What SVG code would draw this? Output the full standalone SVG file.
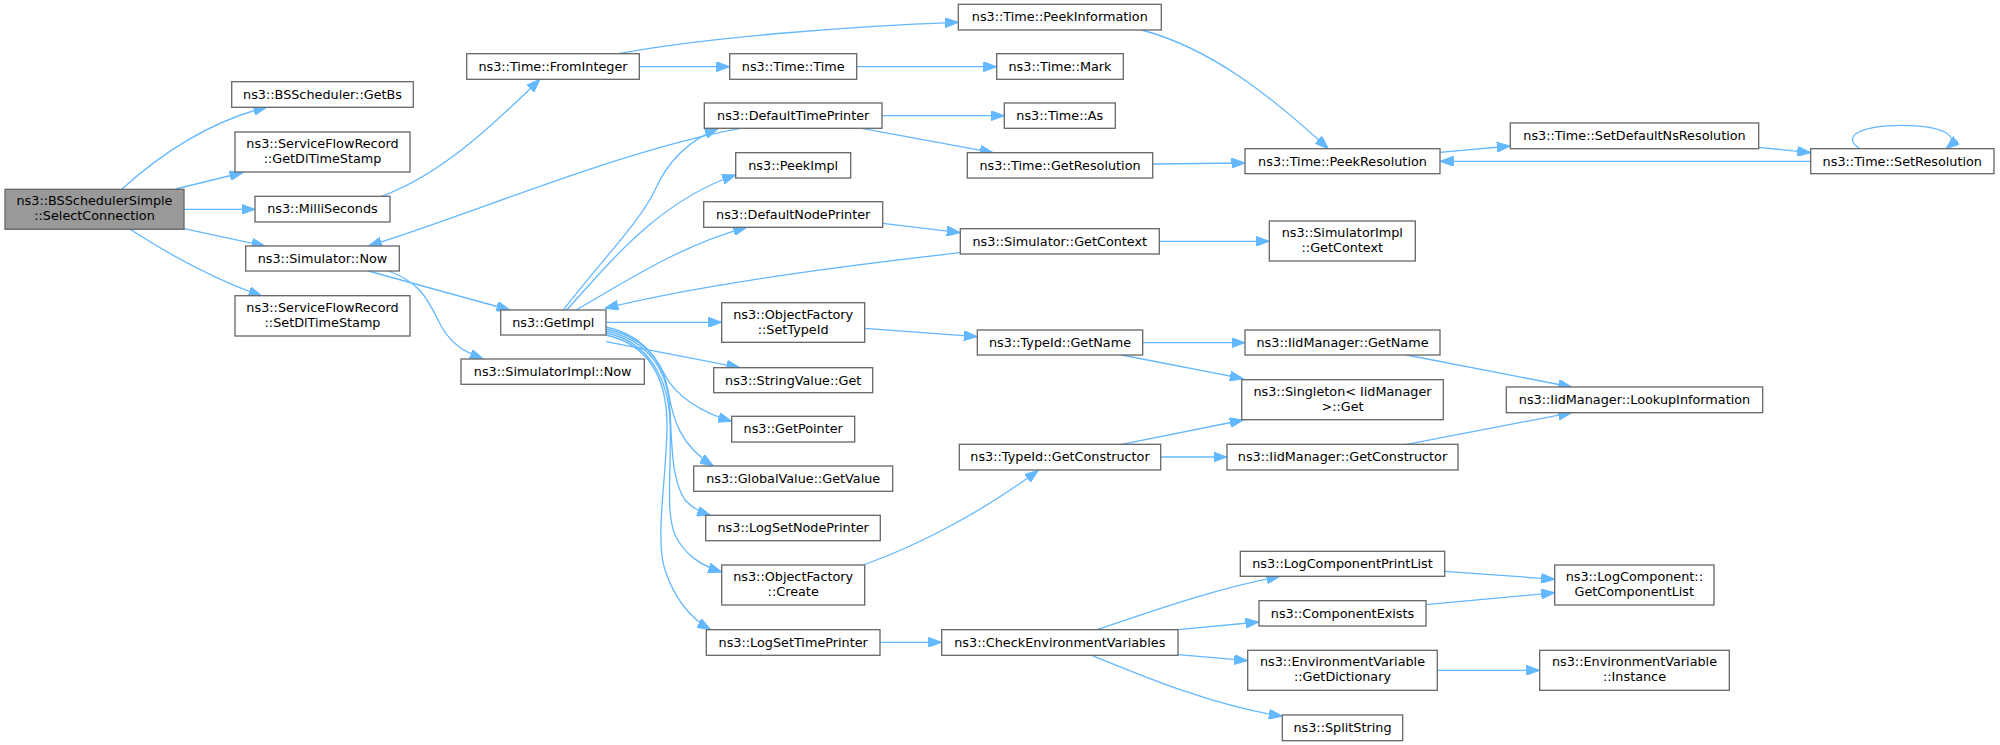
<svg xmlns="http://www.w3.org/2000/svg" width="2000" height="745" viewBox="0 0 2000 745">
<style>
.n rect{fill:#ffffff;stroke:#666666;stroke-width:1.3}
.n.main rect{fill:#999999}
.n text{font-family:"DejaVu Sans","Liberation Sans",sans-serif;font-size:12.8px;fill:#000000;text-anchor:middle}
.e path{fill:none;stroke:#63b8ff;stroke-width:1.3;marker-end:url(#arr)}
</style>
<defs>
<marker id="arr" viewBox="0 0 14 10" refX="13.5" refY="5" markerWidth="14" markerHeight="10" orient="auto" markerUnits="userSpaceOnUse">
<path d="M0,0 L13.5,5 L0,10 z" fill="#63b8ff" stroke="#63b8ff" stroke-width="1"/>
</marker>
</defs>
<rect width="2000" height="745" fill="#ffffff"/>
<g id="edges" class="e">
<path d="M121.7,189.3 C165,150 215,120 267,107"/>
<path d="M175.7,189 L243,172.5"/>
<path d="M184,209.3 L255,209.3"/>
<path d="M184,228.7 L265,246"/>
<path d="M130,229.3 C170,255 215,280 262,296"/>
<path d="M381.7,196.3 C440,175 490,128 540,79.3"/>
<path d="M618.3,53.7 C700,38 850,26 958.3,22.3"/>
<path d="M639.3,66.7 L729.7,66.7"/>
<path d="M856.7,66.7 L996.7,66.7"/>
<path d="M1141.7,30 C1210,48 1270,95 1328.3,148.7"/>
<path d="M740.7,128.3 C620,150 470,215 368.3,246"/>
<path d="M882,115.7 L1004.3,115.7"/>
<path d="M861.7,128.3 L993.3,152.7"/>
<path d="M1152.7,164 L1245,163"/>
<path d="M1440,152.3 L1510.3,146"/>
<path d="M1758.7,147.3 L1810.7,152.7"/>
<path d="M1810.7,161.3 L1440,161.3"/>
<path d="M1860,148.7 C1840,136 1862,125.3 1902,125.3 C1942,125.3 1962,136 1946,148.7"/>
<path d="M368.3,271 L510,310"/>
<path d="M388.3,271 C420,282 428,300 438,320 C450,345 465,352 483.3,359"/>
<path d="M563.3,310 C600,262 640,222 655,190 C668,160 690,140 718.3,128.3"/>
<path d="M566.7,310 C610,262 660,200 735.7,175"/>
<path d="M576,310 C620,285 680,245 746.7,227.3"/>
<path d="M882.7,223.3 L960.3,232.7"/>
<path d="M960.3,252.7 C850,265 700,285 605,308.3"/>
<path d="M1159.3,241.3 L1269.3,241.3"/>
<path d="M606,322.3 L721.7,322.3"/>
<path d="M864.7,328.3 L977.3,336.7"/>
<path d="M1142.7,342.7 L1245,342.7"/>
<path d="M1121.7,355 L1243.3,378.7"/>
<path d="M1406.7,355 L1571.7,387"/>
<path d="M606,341.7 L740,367.7"/>
<path d="M606,327 C640,334 655,355 665,375 C675,395 700,412 731.7,421.3"/>
<path d="M606,329 C645,337 662,360 668,390 C673,420 680,445 713.3,466"/>
<path d="M606,331 C648,340 668,370 670,410 C672,450 672,480 685,500 C692,508 700,512 710.7,515.3"/>
<path d="M606,333 C650,342 668,380 670,420 C672,470 665,510 675,535 C685,555 700,565 721.7,572"/>
<path d="M606,335 C650,345 668,380 667,430 C666,480 655,540 665,570 C675,600 690,618 710.7,629.7"/>
<path d="M863.3,565 C920,545 985,510 1038.3,470.3"/>
<path d="M1121.7,444.3 L1243.3,420"/>
<path d="M1160.7,457 L1227,457"/>
<path d="M1406.7,444.3 L1571.7,412.7"/>
<path d="M880,642.3 L941.7,642.3"/>
<path d="M1096.7,629.7 C1150,612 1210,590 1280,576.3"/>
<path d="M1178,629.7 L1259,622"/>
<path d="M1178,654.7 L1247.7,660.7"/>
<path d="M1091.7,655.3 C1140,675 1210,705 1282.3,716.3"/>
<path d="M1444.7,571.3 L1554.7,579.3"/>
<path d="M1426,604.7 L1554.7,592.7"/>
<path d="M1437.3,670.3 L1539.7,670.3"/>
</g>
<g id="n_main" class="n main"><rect x="5" y="189.3" width="179" height="40"/><text x="94.5" y="205.3">ns3::BSSchedulerSimple</text><text x="94.5" y="220.3">::SelectConnection</text></g>
<g id="n_getbs" class="n"><rect x="231.7" y="81.7" width="181.6" height="25.6"/><text x="322.5" y="98.7">ns3::BSScheduler::GetBs</text></g>
<g id="n_getdl" class="n"><rect x="235" y="132" width="175" height="40"/><text x="322.5" y="148.3">ns3::ServiceFlowRecord</text><text x="322.5" y="163.3">::GetDlTimeStamp</text></g>
<g id="n_milli" class="n"><rect x="255" y="196.3" width="135" height="25.7"/><text x="322.5" y="213.3">ns3::MilliSeconds</text></g>
<g id="n_simnow" class="n"><rect x="245.7" y="246" width="153.6" height="25"/><text x="322.5" y="263">ns3::Simulator::Now</text></g>
<g id="n_setdl" class="n"><rect x="235" y="295.7" width="175" height="40.3"/><text x="322.5" y="312">ns3::ServiceFlowRecord</text><text x="322.5" y="327">::SetDlTimeStamp</text></g>
<g id="n_fromint" class="n"><rect x="466.7" y="53.7" width="172.6" height="25.6"/><text x="553" y="70.7">ns3::Time::FromInteger</text></g>
<g id="n_getimpl" class="n"><rect x="500.7" y="310" width="105.3" height="25"/><text x="553.3" y="327">ns3::GetImpl</text></g>
<g id="n_simimplnow" class="n"><rect x="461" y="359" width="183.3" height="25.3"/><text x="552.7" y="376">ns3::SimulatorImpl::Now</text></g>
<g id="n_peekinfo" class="n"><rect x="958.3" y="4.3" width="203" height="25.7"/><text x="1059.8" y="21.3">ns3::Time::PeekInformation</text></g>
<g id="n_timetime" class="n"><rect x="729.7" y="53.7" width="127" height="25.6"/><text x="793.2" y="70.7">ns3::Time::Time</text></g>
<g id="n_deftime" class="n"><rect x="704.3" y="103" width="177.7" height="25.3"/><text x="793.2" y="120">ns3::DefaultTimePrinter</text></g>
<g id="n_peekimpl" class="n"><rect x="735.7" y="152.7" width="115" height="25.3"/><text x="793.2" y="169.7">ns3::PeekImpl</text></g>
<g id="n_defnode" class="n"><rect x="703.7" y="201.7" width="179" height="25.6"/><text x="793.2" y="218.7">ns3::DefaultNodePrinter</text></g>
<g id="n_settypeid" class="n"><rect x="721.7" y="302.7" width="143" height="39.6"/><text x="793.2" y="318.7">ns3::ObjectFactory</text><text x="793.2" y="333.7">::SetTypeId</text></g>
<g id="n_strget" class="n"><rect x="713.7" y="367.7" width="159" height="25"/><text x="793.2" y="384.7">ns3::StringValue::Get</text></g>
<g id="n_getptr" class="n"><rect x="731.7" y="416.3" width="123" height="25.7"/><text x="793.2" y="433.3">ns3::GetPointer</text></g>
<g id="n_globval" class="n"><rect x="693.7" y="466" width="199" height="25.3"/><text x="793.2" y="483">ns3::GlobalValue::GetValue</text></g>
<g id="n_lognode" class="n"><rect x="705.7" y="515.3" width="174.6" height="25.4"/><text x="793.2" y="532.3">ns3::LogSetNodePrinter</text></g>
<g id="n_create" class="n"><rect x="721.7" y="565" width="143" height="40"/><text x="793.2" y="581">ns3::ObjectFactory</text><text x="793.2" y="596">::Create</text></g>
<g id="n_logtime" class="n"><rect x="706.3" y="629.7" width="173.7" height="25.6"/><text x="793.2" y="646.7">ns3::LogSetTimePrinter</text></g>
<g id="n_mark" class="n"><rect x="996.7" y="53.7" width="126.6" height="25.6"/><text x="1060" y="70.7">ns3::Time::Mark</text></g>
<g id="n_as" class="n"><rect x="1004.3" y="103" width="111" height="25.3"/><text x="1059.8" y="120">ns3::Time::As</text></g>
<g id="n_getres" class="n"><rect x="967.3" y="152.7" width="185.4" height="25.3"/><text x="1060" y="169.7">ns3::Time::GetResolution</text></g>
<g id="n_simctx" class="n"><rect x="960.3" y="228.7" width="199" height="25.3"/><text x="1059.8" y="245.7">ns3::Simulator::GetContext</text></g>
<g id="n_tidname" class="n"><rect x="977.3" y="330" width="165.4" height="25"/><text x="1060" y="347">ns3::TypeId::GetName</text></g>
<g id="n_tidctor" class="n"><rect x="959.3" y="444.3" width="201.4" height="25.7"/><text x="1060" y="461.3">ns3::TypeId::GetConstructor</text></g>
<g id="n_checkenv" class="n"><rect x="941.7" y="629.7" width="236.3" height="25.6"/><text x="1059.8" y="646.7">ns3::CheckEnvironmentVariables</text></g>
<g id="n_peekres" class="n"><rect x="1245" y="148.7" width="195" height="25"/><text x="1342.5" y="165.7">ns3::Time::PeekResolution</text></g>
<g id="n_implctx" class="n"><rect x="1269.3" y="221" width="146" height="40"/><text x="1342.3" y="237">ns3::SimulatorImpl</text><text x="1342.3" y="252">::GetContext</text></g>
<g id="n_iidname" class="n"><rect x="1245" y="330" width="195" height="25"/><text x="1342.5" y="347">ns3::IidManager::GetName</text></g>
<g id="n_singleton" class="n"><rect x="1241.7" y="379.7" width="201.6" height="40"/><text x="1342.5" y="395.7">ns3::Singleton&lt; IidManager</text><text x="1342.5" y="410.7">&gt;::Get</text></g>
<g id="n_iidctor" class="n"><rect x="1227" y="444.3" width="231" height="25.7"/><text x="1342.5" y="461.3">ns3::IidManager::GetConstructor</text></g>
<g id="n_logprint" class="n"><rect x="1240.3" y="551.3" width="204.4" height="25"/><text x="1342.5" y="568.3">ns3::LogComponentPrintList</text></g>
<g id="n_compexists" class="n"><rect x="1259" y="600.7" width="167" height="25.3"/><text x="1342.5" y="617.7">ns3::ComponentExists</text></g>
<g id="n_getdict" class="n"><rect x="1247.7" y="650.3" width="189.6" height="40"/><text x="1342.5" y="666.3">ns3::EnvironmentVariable</text><text x="1342.5" y="681.3">::GetDictionary</text></g>
<g id="n_split" class="n"><rect x="1282.3" y="715" width="120.4" height="25.7"/><text x="1342.5" y="732">ns3::SplitString</text></g>
<g id="n_setdefns" class="n"><rect x="1510.3" y="123" width="248.4" height="25.7"/><text x="1634.5" y="140">ns3::Time::SetDefaultNsResolution</text></g>
<g id="n_setres" class="n"><rect x="1810.7" y="148.7" width="183.3" height="25"/><text x="1902.3" y="165.7">ns3::Time::SetResolution</text></g>
<g id="n_lookup" class="n"><rect x="1506.3" y="387" width="256.4" height="25.7"/><text x="1634.5" y="404">ns3::IidManager::LookupInformation</text></g>
<g id="n_complist" class="n"><rect x="1554.7" y="565" width="159.3" height="40"/><text x="1634.3" y="581">ns3::LogComponent::</text><text x="1634.3" y="596">GetComponentList</text></g>
<g id="n_instance" class="n"><rect x="1539.7" y="650.3" width="189.6" height="40"/><text x="1634.5" y="666.3">ns3::EnvironmentVariable</text><text x="1634.5" y="681.3">::Instance</text></g>
</svg>
